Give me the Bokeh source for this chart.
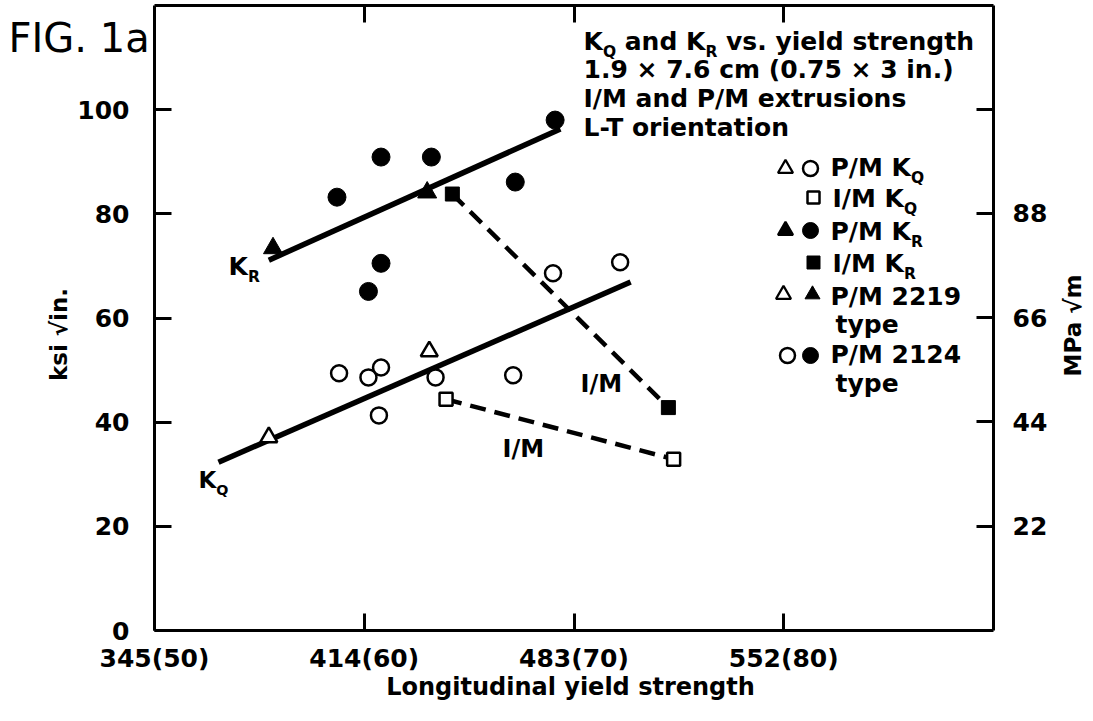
import math
from bokeh.plotting import figure
from bokeh.models import Range1d, LinearAxis, Label, FixedTicker
from bokeh.embed import file_html
from bokeh.resources import INLINE

# ---------------- data (x: yield strength, ksi ; y: ksi*sqrt(in)) ----------------
pm2124_kr_x = [58.7, 60.8, 63.2, 60.8, 60.2, 67.2, 69.1]
pm2124_kr_y = [83.2, 90.9, 90.9, 70.5, 65.1, 86.1, 98.0]
pm2219_kr_x = [55.65, 63.0]
pm2219_kr_y = [73.4, 84.1]
im_kr_x = [64.2, 74.5]
im_kr_y = [83.8, 42.8]

pm2124_kq_x = [58.8, 60.2, 60.8, 60.7, 63.4, 67.1, 69.0, 72.2]
pm2124_kq_y = [49.4, 48.6, 50.5, 41.3, 48.6, 49.0, 68.6, 70.7]
pm2219_kq_x = [55.45, 63.1]
pm2219_kq_y = [37.1, 53.6]
im_kq_x = [63.9, 74.75]
im_kq_y = [44.4, 32.9]

kr_fit_x = [55.45, 69.35]
kr_fit_y = [71.1, 96.3]
kq_fit_x = [53.05, 72.7]
kq_fit_y = [32.3, 66.9]

x_ticks = [50, 60, 70, 80]
x_tick_labels = ["345(50)", "414(60)", "483(70)", "552(80)"]
y_ticks = [0, 20, 40, 60, 80, 100]
mpa_ticks = [22, 44, 66, 88, 110]
mpa_tick_labels = ["22", "44", "66", "88", ""]
KSI_TO_MPA = 1.0988

# ---------------- layout ----------------
# the plotted box spans x 50..90 ksi and y 0..120 ksi*sqrt(in); the frame covers the
# whole canvas and the four axes sit at fixed locations on the box edges.
X0, X1 = 50, 90
Y0, Y1 = 0, 120
W, H = 1090, 718
BOX_L, BOX_R, BOX_T, BOX_B = 154, 993, 5, 630
FONT = "DejaVu Sans"


def XD(px):  # canvas pixel -> data x
    return X0 + (px - BOX_L) / (BOX_R - BOX_L) * (X1 - X0)


def YD(py):  # canvas pixel -> data y
    return Y0 + (BOX_B - py) / (BOX_B - BOX_T) * (Y1 - Y0)


p = figure(width=W, height=H, x_range=Range1d(XD(0), XD(W)), y_range=Range1d(YD(H), YD(0)),
           output_backend="svg", toolbar_location=None,
           min_border_left=0, min_border_right=0, min_border_top=0, min_border_bottom=0)
p.extra_y_ranges = {"mpa": Range1d(YD(H) * KSI_TO_MPA, YD(0) * KSI_TO_MPA)}
p.grid.visible = False
p.outline_line_color = None
p.background_fill_color = "white"
p.border_fill_color = "white"


def style_axis(ax, size="25px"):
    ax.axis_line_width = 3
    ax.axis_line_color = "black"
    ax.major_tick_line_width = 3
    ax.major_tick_line_color = "black"
    ax.major_tick_in = 17
    ax.major_tick_out = 0
    ax.minor_tick_line_color = None
    ax.major_label_text_font = FONT
    ax.major_label_text_font_style = "bold"
    ax.major_label_text_font_size = size
    ax.major_label_text_color = "black"


xa = p.xaxis[0]
style_axis(xa)
xa.fixed_location = Y0
xa.bounds = (X0, X1)
xa.ticker = FixedTicker(ticks=x_ticks)
xa.major_label_overrides = {t: l for t, l in zip(x_ticks, x_tick_labels)}
xa.major_label_standoff = 13

ya = p.yaxis[0]
style_axis(ya)
ya.fixed_location = X0
ya.bounds = (Y0, Y1)
ya.ticker = FixedTicker(ticks=y_ticks)
ya.major_label_standoff = 25

ra = LinearAxis(y_range_name="mpa", fixed_location=X1, bounds=(Y0 * KSI_TO_MPA, Y1 * KSI_TO_MPA))
style_axis(ra)
ra.ticker = FixedTicker(ticks=mpa_ticks)
ra.major_label_overrides = {t: l for t, l in zip(mpa_ticks, mpa_tick_labels)}
ra.major_label_standoff = 19
p.add_layout(ra, "right")

ta = LinearAxis(fixed_location=Y1, bounds=(X0, X1))
style_axis(ta)
ta.ticker = FixedTicker(ticks=[60, 70, 80])
ta.major_label_overrides = {60: "", 70: "", 80: ""}
ta.major_label_standoff = 0
ta.major_label_text_font_size = "0px"
p.add_layout(ta, "above")

# ---------------- lines ----------------
p.line(kr_fit_x, kr_fit_y, line_width=5.5, line_color="black")
p.line(kq_fit_x, kq_fit_y, line_width=5.5, line_color="black")
p.line(im_kr_x, im_kr_y, line_width=4.5, line_color="black", line_dash="16 9")
p.line(im_kq_x, im_kq_y, line_width=4.5, line_color="black", line_dash="16 9")

# ---------------- markers ----------------
OPEN = dict(fill_color="white", line_color="black", line_width=2.5)
SOLID = dict(fill_color="black", line_color="black", line_width=1)
p.scatter(pm2124_kr_x, pm2124_kr_y, marker="circle", size=18, **SOLID)
p.scatter(pm2219_kr_x, pm2219_kr_y, marker="triangle", size=19, **SOLID)
p.scatter(im_kr_x, im_kr_y, marker="square", size=14, **SOLID)
p.scatter(pm2124_kq_x, pm2124_kq_y, marker="circle", size=16, **OPEN)
p.scatter(pm2219_kq_x, pm2219_kq_y, marker="triangle", size=17, **OPEN)
p.scatter(im_kq_x, im_kq_y, marker="square", size=13, **OPEN)

# ---------------- text helpers ----------------
WB = {' ': 348, '.': 381, '/': 365, '(': 458, ')': 458, '-': 416, '×': 838,
      'I': 372, 'K': 775, 'L': 637, 'M': 995, 'P': 733, 'Q': 850, 'R': 770, 'T': 682,
      'a': 675, 'c': 593, 'd': 716, 'e': 678, 'g': 716, 'h': 712, 'i': 343, 'l': 343,
      'm': 1042, 'n': 712, 'o': 687, 'p': 716, 'r': 493, 's': 595, 't': 478, 'v': 652,
      'x': 645, 'y': 652}
for d in "0123456789":
    WB[d] = 696


def tw(s, size):
    return sum(WB.get(c, 650) for c in s) / 1000.0 * size


def text(px, py, s, size, bold=True, align="left", baseline="alphabetic", angle=0.0):
    # py is the wanted baseline; labels are anchored at their vertical middle
    if baseline == "alphabetic":
        py = py - 0.36 * size
        baseline = "middle"
    p.add_layout(Label(x=XD(px), y=YD(py), text=s, text_font=FONT,
                       text_font_style="bold" if bold else "normal",
                       text_font_size=f"{size:.1f}px", text_baseline=baseline,
                       text_align=align, text_color="black", angle=angle))


def rich(px, py, parts, size, sub_scale=0.62, sub_drop=0.28):
    x = px
    for s, sub in parts:
        fs = size * sub_scale if sub else size
        lead = len(s) - len(s.lstrip(" "))
        x += tw(" " * lead, fs)
        s = s.lstrip(" ")
        by = py + (size * sub_drop if sub else 0)
        text(x, by, s, fs)
        x += tw(s, fs)


# figure id and axis titles
text(8, 52, "FIG. 1a", 40, bold=False)
text(570, 695, "Longitudinal yield strength", 24, align="center")
text(58, 334, "ksi √in.", 23, align="center", baseline="middle", angle=math.pi / 2)
text(1072, 325, "MPa √m", 23, align="center", baseline="middle", angle=math.pi / 2)

# info block
TS = 25
rich(583, 50, [("K", 0), ("Q", 1), (" and K", 0), ("R", 1), (" vs. yield strength", 0)], TS)
text(583, 78, "1.9 × 7.6 cm (0.75 × 3 in.)", TS)
text(583, 107, "I/M and P/M extrusions", TS)
text(583, 136, "L-T orientation", TS)

# curve labels
rich(228, 275, [("K", 0), ("R", 1)], 25)
rich(198, 488, [("K", 0), ("Q", 1)], 23)
text(580, 392, "I/M", 24)
text(502, 457, "I/M", 24)

# legend
LS = 25
p.scatter([XD(785), XD(785), XD(783)], [YD(168), YD(230), YD(294)], marker="triangle",
          size=15, fill_color=["white", "black", "white"], line_color="black", line_width=2.2)
p.scatter([XD(812)], [YD(294)], marker="triangle", size=15, **SOLID)
p.scatter([XD(810), XD(787)], [YD(168), YD(355)], marker="circle", size=15, **OPEN)
p.scatter([XD(810), XD(810)], [YD(230), YD(355)], marker="circle", size=16, **SOLID)
p.scatter([XD(813)], [YD(197)], marker="square", size=12, **OPEN)
p.scatter([XD(813)], [YD(262)], marker="square", size=13, **SOLID)

rich(830, 176, [("P/M K", 0), ("Q", 1)], LS)
rich(832, 207, [("I/M K", 0), ("Q", 1)], LS)
rich(830, 240, [("P/M K", 0), ("R", 1)], LS)
rich(832, 272, [("I/M K", 0), ("R", 1)], LS)
text(830, 305, "P/M 2219", LS)
text(835, 333, "type", LS)
text(830, 363, "P/M 2124", LS)
text(835, 392, "type", LS)

open("out.html", "w").write(file_html(p, INLINE))
